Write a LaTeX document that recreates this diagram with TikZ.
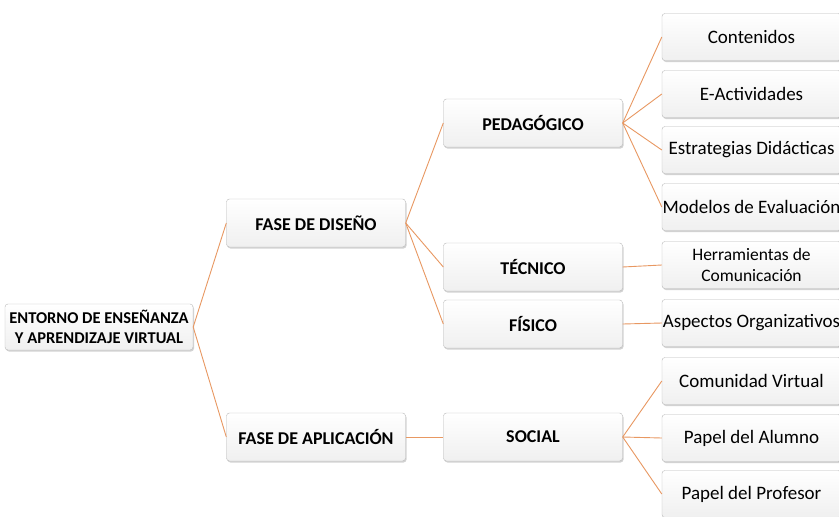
\documentclass[tikz,border=0pt]{standalone}
\usepackage{fontspec}
\setmainfont{Carlito}
\usetikzlibrary{shadows}
\definecolor{naranja}{RGB}{232,152,98}
\tikzset{
  caja/.style={draw=gray!55,rounded corners=3pt,top color=white,bottom color=gray!12,
    minimum width=179pt,minimum height=48pt,align=center,inner xsep=0pt,inner ysep=2pt,
    drop shadow={shadow xshift=1pt,shadow yshift=-1.5pt,opacity=.35}},
  cajab/.style={caja,font=\fontsize{18}{20}\selectfont\bfseries},
  cajan/.style={caja,minimum height=47pt,font=\fontsize{19}{21}\selectfont},
  linea/.style={naranja,line width=0.9pt}
}
\begin{document}
\begin{tikzpicture}[x=1pt,y=-1pt]%ENTORNO VIRTUAL
		\useasboundingbox (0,0) rectangle (839,517);
		\fill[white] (0,0) rectangle (839,517);
		\node[cajab,minimum width=188pt,minimum height=46pt,font=\fontsize{16.5}{20}\selectfont\bfseries] (root) at (99,327) {ENTORNO DE ENSEÑANZA\\Y APRENDIZAJE VIRTUAL};
		\node[cajab] (diseno) at (316,223) {FASE DE DISEÑO};
		\node[cajab] (aplica) at (316,437) {FASE DE APLICACIÓN};
		\node[cajab] (pedag) at (533,123) {PEDAGÓGICO};
		\node[cajab] (tecnico) at (533,267) {TÉCNICO};
		\node[cajab] (fisico) at (533,324) {FÍSICO};
		\node[cajab] (social) at (533,437) {SOCIAL};
		\node[cajan] (cont) at (751.5,37) {Contenidos};
		\node[cajan] (eact) at (751.5,94) {E-Actividades};
		\node[cajan] (estrat) at (751.5,150) {Estrategias Didácticas};
		\node[cajan] (model) at (751.5,207) {Modelos de Evaluación};
		\node[cajan,font=\fontsize{17.5}{21}\selectfont] (herram) at (751.5,265) {Herramientas de\\Comunicación};
		\node[cajan] (aspect) at (751.5,323) {Aspectos Organizativos};
		\node[cajan] (comun) at (751.5,381) {Comunidad Virtual};
		\node[cajan] (alumno) at (751.5,438) {Papel del Alumno};
		\node[cajan] (profe) at (751.5,494) {Papel del Profesor};
		\foreach \a/\b in {root/diseno,root/aplica,diseno/pedag,diseno/tecnico,diseno/fisico,aplica/social,
			pedag/cont,pedag/eact,pedag/estrat,pedag/model,tecnico/herram,fisico/aspect,
			social/comun,social/alumno,social/profe}
		\draw[linea] (\a.east)--(\b.west);
		\end{tikzpicture}
\end{document}
